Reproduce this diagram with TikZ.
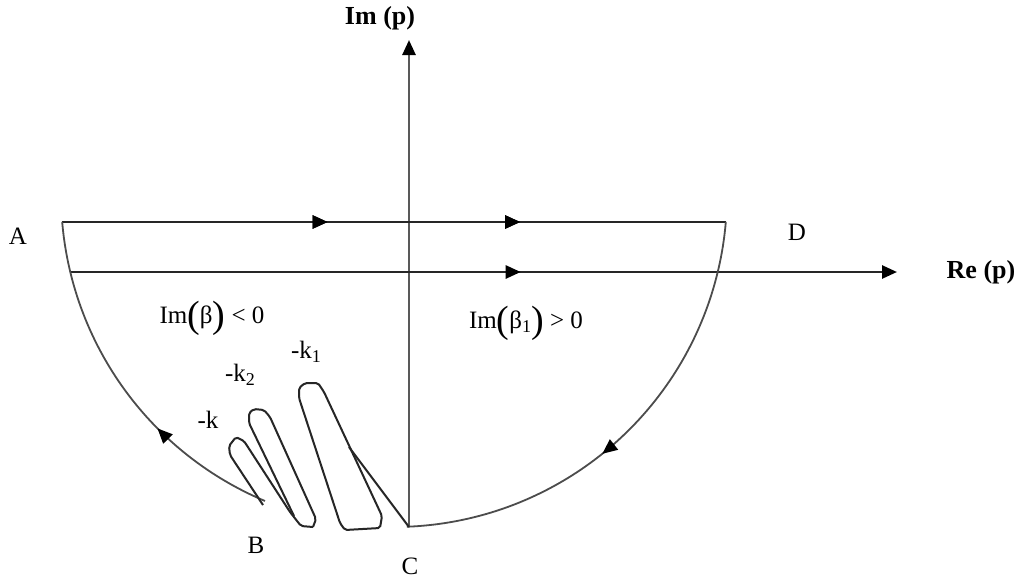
\documentclass[tikz,border=0pt]{standalone}
\usepackage{fontspec}
\setmainfont{Liberation Serif}
\usetikzlibrary{arrows.meta,decorations.markings}
\newcommand\bparen[1]{{\fontsize{38}{38}\selectfont\raisebox{-0.1em}{#1}}}
\newcommand\subsc[1]{\raisebox{-0.35ex}{\fontsize{18}{18}\selectfont #1}}
\begin{document}
\begin{tikzpicture}[x=1pt,y=-1pt,
  lbl/.style={font=\fontsize{25}{27}\selectfont, inner sep=0pt},
  axlbl/.style={font=\fontsize{26}{28}\selectfont\bfseries, inner sep=0pt},
  axisline/.style={line width=2.6pt, draw=black!65},
  pathline/.style={line width=2.4pt, draw=black!85},
  arcline/.style={line width=1.8pt, draw=black!70},
  loopline/.style={line width=2pt, draw=black!85, line join=round},
  tipA/.style={-{Triangle[length=15pt,width=13pt,color=black]}},
  midarrow/.style={postaction={decorate},decoration={markings,
     mark=at position #1 with {\arrow{Triangle[length=15pt,width=13pt,color=black]}}}}
]
\useasboundingbox (0,0) rectangle (1014,579);
\fill[white] (0,0) rectangle (1014,579);

% key points
\coordinate (A) at (62,222);
\coordinate (D) at (726,222);
\coordinate (Cp) at (409,527);
\coordinate (Bp) at (263,505);
\coordinate (Rl) at (70,272);
\coordinate (Rr) at (897,272);
\coordinate (Ib) at (409,527);
\coordinate (It) at (409,40);
\coordinate (J) at (349,447);

% axes
\draw[axisline,tipA] (Ib) -- (It);
\draw[axisline,draw=black!85,tipA,midarrow=0.545] (Rl) -- (Rr);
% top line
\draw[pathline,midarrow=0.40,midarrow=0.69] (A) -- (D);

% left arc B -> A
\draw[arcline,midarrow=0.36] plot[domain=112.8:175.2,samples=80]
  ({394+333*cos(\x)},{194+333*sin(\x)});
% right arc D -> C
\draw[arcline,midarrow=0.56] plot[domain=4.8:87.8,samples=80]
  ({394+333*cos(\x)},{194+333*sin(\x)});

% loops
\draw[loopline,rounded corners=2pt] (Bp) -- (230,455) -- (229,446) -- (236,437) -- (244,441)
  -- (290,512) -- (301,526) -- (313,527);
\draw[loopline,rounded corners=2pt] (294,516) -- (249,423) -- (249,413) -- (254,409)
  -- (264,410) -- (270,417) -- (316,519) -- (313,527);
\draw[loopline,rounded corners=2pt] (299,398) -- (299,388) -- (305,383) -- (318,383)
  -- (324,392) -- (382,516) -- (380,528) -- (345,530) -- (340,523) -- cycle;
\draw[loopline] (Cp) -- (J);

% labels
\node[lbl] (lA) at (18,236) {A};
\node[lbl] (lD) at (797,232) {D};
\node[lbl] (lB) at (256,545) {B};
\node[lbl] (lC) at (410,566) {C};
\node[axlbl] (lIm) at (380,18) {Im (p)};
\node[axlbl] (lRe) at (981,272) {Re (p)};
\node[lbl] (rL) at (212,318) {Im\bparen{(}β\bparen{)} < 0};
\node[lbl] (rR) at (526,323) {Im\bparen{(}β\subsc{1}\bparen{)} > 0};
\node[lbl] (k1) at (306,352) {-k\subsc{1}};
\node[lbl] (k2) at (240,375) {-k\subsc{2}};
\node[lbl] (k0) at (208,420) {-k};
\end{tikzpicture}
\end{document}
